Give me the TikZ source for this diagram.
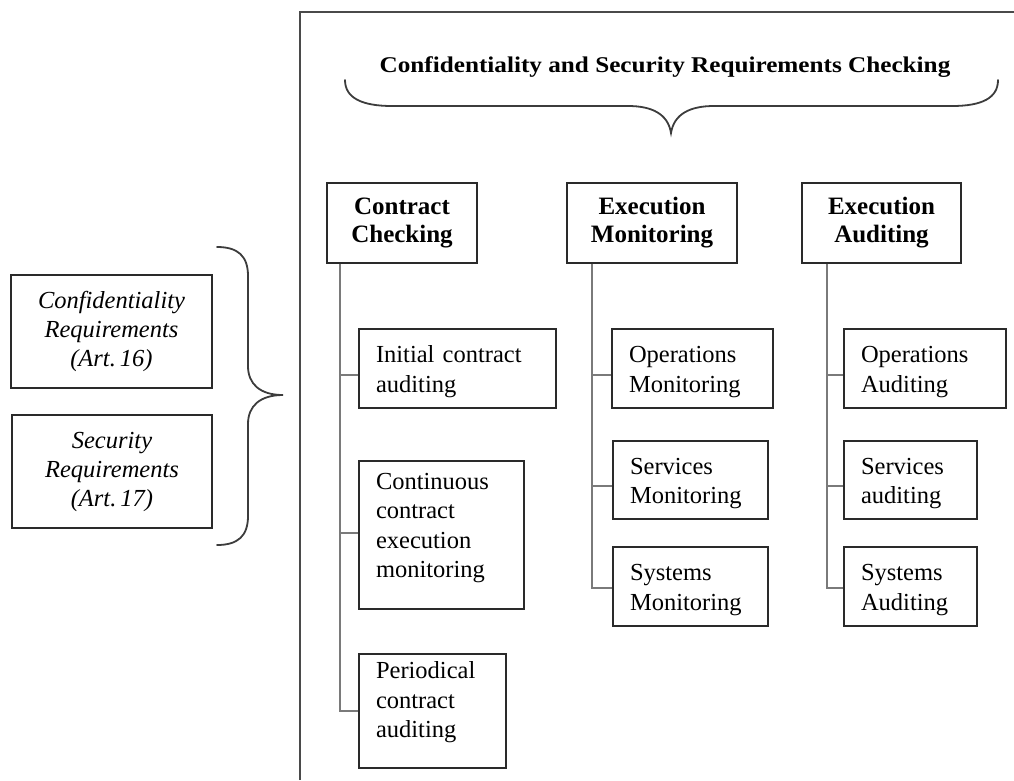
\documentclass[tikz,border=0pt]{standalone}
\usepackage{fontspec}
\usepackage{graphicx}
\setmainfont{Liberation Serif}
\definecolor{boxline}{HTML}{2A2A2A}
\definecolor{treeline}{HTML}{7A7A7A}
\definecolor{frameline}{HTML}{4A4A4A}
\definecolor{braceline}{HTML}{3C3C3C}
\begin{document}
\begin{tikzpicture}[x=1pt,y=-1pt,
  box/.style={draw=boxline, line width=1.8pt, inner sep=0pt, fill=white},
  header/.style={box, minimum width=#1, minimum height=80pt, align=center,
    font=\bfseries\fontsize{25}{28}\selectfont},
  leaf/.style 2 args={box, minimum width=#1, minimum height=#2, inner xsep=17pt,
    text width={#1pt-34pt}, align=left, font=\fontsize{24.5}{29.5}\selectfont},
  twoline/.style={execute at begin node={\rule{0pt}{23pt}}},
  reqbox/.style={box, minimum width=#1, minimum height=113pt, align=center,
    font=\itshape\fontsize{24.5}{29}\selectfont},
  tree/.style={draw=treeline, line width=1.8pt},
  bracepath/.style={draw=braceline, line width=1.8pt, line cap=round}]

\useasboundingbox (0,0) rectangle (1014,780);

% frame around the checking part
\draw[draw=frameline, line width=2pt] (300,780) -- (300,12) -- (1014,12);

% title and its brace
\node (title) [anchor=base, font=\bfseries\fontsize{22.5}{27}\selectfont]
  at (665,72) {\scalebox{1.12}[1]{Confidentiality and Security Requirements Checking}};
\draw[bracepath] (345,80) .. controls (345,98) and (362,106) .. (392,106)
  -- (628,106) .. controls (652,106) and (668,114) .. (671,133)
  .. controls (674,114) and (690,106) .. (714,106)
  -- (952,106) .. controls (982,106) and (998,98) .. (998,80);

% requirement boxes and their brace
\node[reqbox=201pt] (conf) at (111.5,331.5) {Confidentiality\\Requirements\\(Art.\,16)};
\node[reqbox=200pt] (secu) at (112,471.5) {Security\\Requirements\\(Art.\,17)};
\draw[bracepath] (217,247) .. controls (238,247) and (248,256) .. (248,276)
  -- (248,366) .. controls (248,384) and (260,395) .. (283,395)
  .. controls (260,395) and (248,406) .. (248,424)
  -- (248,516) .. controls (248,536) and (238,545) .. (217,545);

% column headers
\node[header=150pt] (cc) at (402,223) {Contract\\Checking};
\node[header=170pt] (em) at (652,223) {Execution\\Monitoring};
\node[header=159pt] (ea) at (881.5,223) {Execution\\Auditing};

% contract checking
\node[leaf={197}{79}, twoline] (ci) at (457.5,368.5) {Initial contract\\auditing};
\node[leaf={165}{148}] (cm) at (441.5,535)
  {Continuous\\contract\\execution\\monitoring\rule[-19pt]{0pt}{19pt}};
\node[leaf={147}{114}] (cp) at (432.5,711)
  {Periodical\\contract\\auditing\rule[-23pt]{0pt}{23pt}};

% execution monitoring
\node[leaf={161}{79}, twoline] (mo) at (692.5,368.5) {Operations\\Monitoring};
\node[leaf={155}{78}, twoline] (ms) at (690.5,480) {Services\\Monitoring};
\node[leaf={155}{79}, twoline] (my) at (690.5,586.5) {Systems\\Monitoring};

% execution auditing
\node[leaf={162}{79}, twoline] (ao) at (925,368.5) {Operations\\Auditing};
\node[leaf={133}{78}, twoline] (as) at (910.5,480) {Services\\auditing};
\node[leaf={133}{79}, twoline] (ay) at (910.5,586.5) {Systems\\Auditing};

% tree connectors
\draw[tree] ([xshift=14pt]cc.south west) |- ([yshift=-6.5pt]ci.west);
\draw[tree] ([xshift=14pt]cc.south west) |- ([yshift=2pt]cm.west);
\draw[tree] ([xshift=14pt]cc.south west) |- (cp.west);

\draw[tree] ([xshift=26pt]em.south west) |- ([yshift=-6.5pt]mo.west);
\draw[tree] ([xshift=26pt]em.south west) |- ([yshift=-6pt]ms.west);
\draw[tree] ([xshift=26pt]em.south west) |- ([yshift=-1.5pt]my.west);

\draw[tree] ([xshift=26pt]ea.south west) |- ([yshift=-6.5pt]ao.west);
\draw[tree] ([xshift=26pt]ea.south west) |- ([yshift=-6pt]as.west);
\draw[tree] ([xshift=26pt]ea.south west) |- ([yshift=-1.5pt]ay.west);

\end{tikzpicture}
\end{document}
